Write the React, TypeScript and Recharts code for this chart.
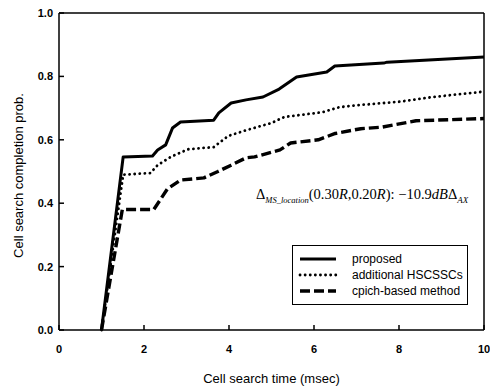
import {
  LineChart,
  Line,
  XAxis,
  YAxis,
  Legend,
  Label,
} from "recharts";

// values
const proposedX = [1.0, 1.51, 2.2, 2.32, 2.51, 2.67, 2.86, 3.64, 3.76, 4.05, 4.4, 4.8, 5.18, 5.59, 6.3, 6.49, 7.64, 7.72, 10];
const proposedY = [0, 0.546, 0.549, 0.568, 0.584, 0.637, 0.656, 0.662, 0.685, 0.716, 0.726, 0.735, 0.76, 0.798, 0.814, 0.833, 0.842, 0.845, 0.861];

const additionalX = [1.0, 1.51, 2.15, 2.32, 2.63, 3.03, 3.64, 3.98, 4.4, 5.0, 5.3, 6.2, 6.6, 7.1, 8.0, 8.8, 10];
const additionalY = [0, 0.49, 0.495, 0.52, 0.546, 0.57, 0.577, 0.612, 0.63, 0.653, 0.672, 0.687, 0.703, 0.71, 0.72, 0.735, 0.752];

const cpichX = [1.0, 1.49, 2.23, 2.55, 2.86, 3.41, 3.74, 4.05, 4.4, 4.6, 5.2, 5.45, 6.1, 6.5, 7.1, 7.6, 8.4, 10];
const cpichY = [0, 0.38, 0.38, 0.445, 0.473, 0.48, 0.5, 0.52, 0.543, 0.546, 0.568, 0.59, 0.6, 0.62, 0.635, 0.64, 0.66, 0.667];

const seriesNames = ["proposed", "additional HSCSSCs", "cpich-based method"];
const xTicks = [0, 2, 4, 6, 8, 10];
const yTicks = [0, 0.2, 0.4, 0.6, 0.8, 1.0];

const toPoints = (xs: number[], ys: number[]) => xs.map((t, i) => ({ t, p: ys[i] }));

const lineStyles = [
  { strokeWidth: 3, dash: undefined as string | undefined, cap: "butt" as const },
  { strokeWidth: 2.8, dash: "0.1 5", cap: "round" as const },
  { strokeWidth: 3.4, dash: "10 4", cap: "butt" as const },
];

const sans = '"Liberation Sans", Arial, sans-serif';
const serif = '"Liberation Serif", "Times New Roman", serif';

const LegendBox = () => (
  <div
    style={{
      border: "1px solid #000",
      background: "#fff",
      padding: "5px 0 5px 5px",
      fontFamily: sans,
      fontSize: 12,
      color: "#000",
    }}
  >
    {seriesNames.map((name, i) => (
      <div key={name} style={{ display: "flex", alignItems: "center", height: 16 }}>
        <svg width={40} height={10} style={{ marginRight: 14 }}>
          <line
            x1={2}
            y1={5}
            x2={38}
            y2={5}
            stroke="#000"
            strokeWidth={lineStyles[i].strokeWidth}
            strokeDasharray={lineStyles[i].dash}
            strokeLinecap={lineStyles[i].cap}
          />
        </svg>
        <span>{name}</span>
      </div>
    ))}
  </div>
);

const App = () => {
  const series = [
    toPoints(proposedX, proposedY),
    toPoints(additionalX, additionalY),
    toPoints(cpichX, cpichY),
  ];

  return (
    <div style={{ position: "absolute", left: 0, top: 0, width: 490, height: 386, background: "#fff" }}>
      <LineChart width={490} height={386} margin={{ top: 12, right: 5, bottom: 0, left: 0 }}>
        <XAxis
          dataKey="t"
          type="number"
          domain={[0, 10]}
          ticks={xTicks}
          height={56}
          tickSize={-5}
          tickMargin={20}
          stroke="#000"
          strokeWidth={1.5}
          tick={{ fill: "#000", fontFamily: sans, fontSize: 11, fontWeight: "bold" }}
          allowDuplicatedCategory={false}
        >
          <Label
            value="Cell search time (msec)"
            position="insideBottom"
            offset={3}
            style={{ fill: "#000", fontFamily: sans, fontSize: 13 }}
          />
        </XAxis>
        <XAxis
          xAxisId="top"
          orientation="top"
          type="number"
          domain={[0, 10]}
          ticks={xTicks}
          height={1}
          tickSize={-5}
          tick={false}
          stroke="#000"
          strokeWidth={1.5}
        />
        <YAxis
          type="number"
          domain={[0, 1]}
          ticks={yTicks}
          width={59}
          tickSize={-5}
          tickMargin={11}
          stroke="#000"
          strokeWidth={1.5}
          tickFormatter={(v: number) => v.toFixed(1)}
          tick={{ fill: "#000", fontFamily: sans, fontSize: 11, fontWeight: "bold" }}
        >
          <Label
            content={({ viewBox }: any) => {
              const cy = viewBox.y + viewBox.height / 2 + 4;
              return (
                <text
                  x={18}
                  y={cy}
                  transform={`rotate(-90, 18, ${cy})`}
                  textAnchor="middle"
                  dominantBaseline="central"
                  style={{ fill: "#000", fontFamily: sans, fontSize: 13 }}
                >
                  Cell search completion prob.
                </text>
              );
            }}
          />
        </YAxis>
        <YAxis
          yAxisId="right"
          orientation="right"
          type="number"
          domain={[0, 1]}
          ticks={yTicks}
          width={1}
          tickSize={-5}
          tick={false}
          stroke="#000"
          strokeWidth={1.5}
        />
        <Legend
          layout="horizontal"
          verticalAlign="middle"
          align="center"
          content={() => <LegendBox />}
          wrapperStyle={{ left: 292, top: 245, width: 176 }}
        />
        {series.map((data, i) => (
          <Line
            key={seriesNames[i]}
            data={data}
            dataKey="p"
            name={seriesNames[i]}
            type="linear"
            stroke="#000"
            strokeWidth={lineStyles[i].strokeWidth}
            strokeDasharray={lineStyles[i].dash}
            strokeLinecap={lineStyles[i].cap}
            strokeLinejoin="round"
            dot={false}
            activeDot={false}
            isAnimationActive={false}
          />
        ))}
      </LineChart>
      <div
        style={{
          position: "absolute",
          left: 256,
          top: 186,
          fontFamily: serif,
          fontSize: 14.5,
          lineHeight: "16px",
          whiteSpace: "nowrap",
          color: "#000",
        }}
      >
        Δ
        <span style={{ fontSize: 8.5, fontStyle: "italic", position: "relative", top: 4 }}>MS_location</span>
        (0.30<i>R</i>,0.20<i>R</i>): −10.9<i>dB</i>Δ
        <span style={{ fontSize: 9, fontStyle: "italic", position: "relative", top: 4 }}>AX</span>
      </div>
    </div>
  );
};

export default App;
